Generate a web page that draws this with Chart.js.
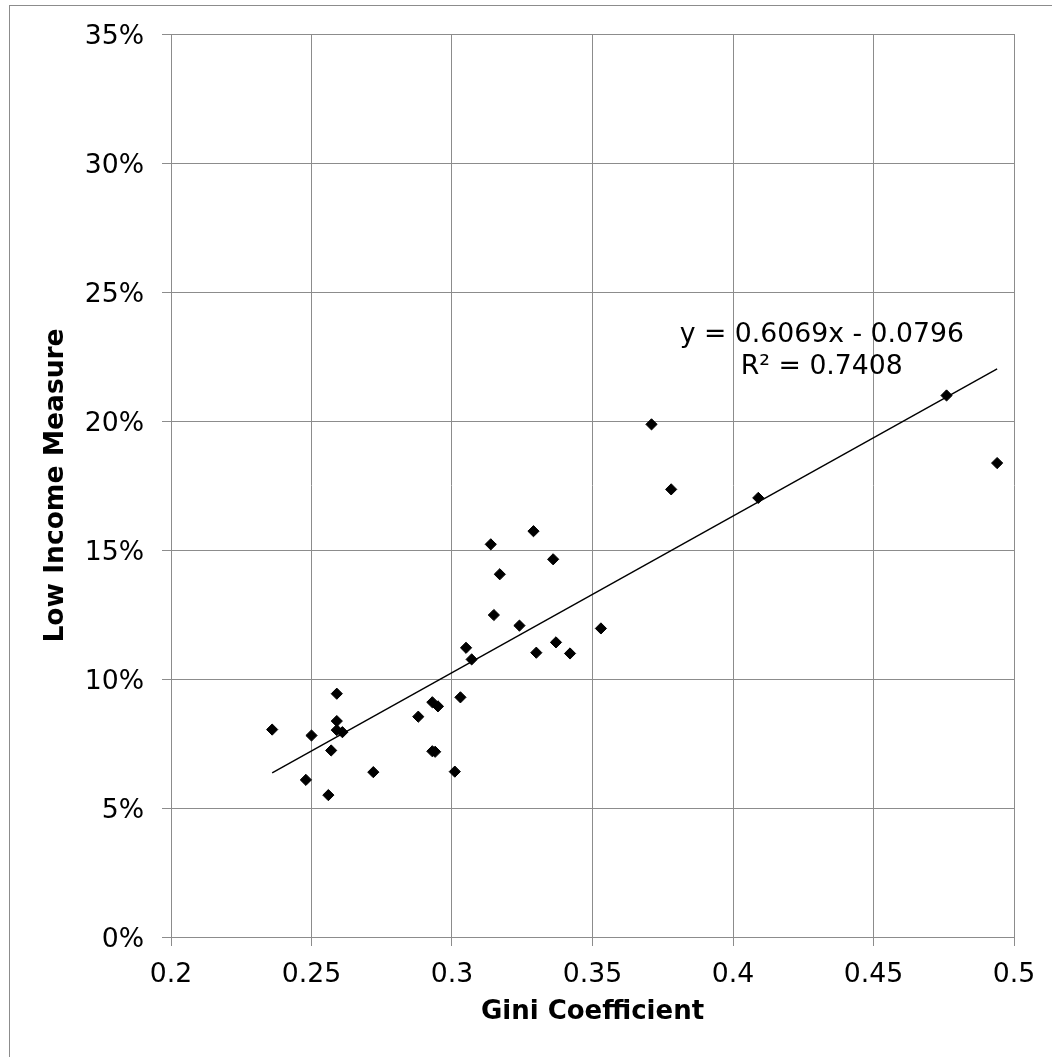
<!DOCTYPE html>
<html>
<head>
<meta charset="utf-8">
<script src="https://cdn.jsdelivr.net/npm/chart.js@4.4.1/dist/chart.umd.min.js"></script>
<style>
  html, body { margin: 0; padding: 0; background: #ffffff; }
  #wrap { position: relative; width: 1052px; height: 1057px; }
</style>
</head>
<body>
<div id="wrap"><canvas id="c" width="1052" height="1057"></canvas></div>
<script>
// ---- data ----
const giniValues = [0.236, 0.250, 0.248, 0.256, 0.257, 0.259, 0.259, 0.259, 0.261, 0.272,
                    0.288, 0.293, 0.295, 0.293, 0.294, 0.301, 0.303, 0.305, 0.307, 0.3149,
                    0.317, 0.3138, 0.329, 0.336, 0.324, 0.330, 0.337, 0.342, 0.353, 0.371,
                    0.378, 0.409, 0.476, 0.494];
const limValues  = [0.0804, 0.0781, 0.0609, 0.0550, 0.0723, 0.0943, 0.0837, 0.0802, 0.0794, 0.0639,
                    0.0854, 0.0910, 0.0894, 0.0720, 0.0718, 0.0641, 0.0929, 0.1121, 0.1076, 0.1248,
                    0.1406, 0.1522, 0.1573, 0.1464, 0.1207, 0.1102, 0.1142, 0.1099, 0.1196, 0.1987,
                    0.1735, 0.1702, 0.2099, 0.1837];
const trendSlope = 0.6069;
const trendIntercept = -0.0796;
const trendLabels = ["y = 0.6069x - 0.0796", "R\u00B2 = 0.7408"];
const xTickValues = [0.2, 0.25, 0.3, 0.35, 0.4, 0.45, 0.5];
const yTickValues = [0, 0.05, 0.10, 0.15, 0.20, 0.25, 0.30, 0.35];
const xTitle = "Gini Coefficient";
const yTitle = "Low Income Measure";

// ---- presentation constants ----
const FONT = "'DejaVu Sans', Verdana, sans-serif";
const GRID = '#8c8c8c';
const labelAnchor = { x: 0.4316, y1: 0.2335, y2: 0.2211 };

const points = giniValues.map((g, i) => ({ x: g, y: limValues[i] }));
const xMin = Math.min(...giniValues), xMax = Math.max(...giniValues);
const trendPoints = [xMin, xMax].map(x => ({ x: x, y: trendSlope * x + trendIntercept }));

const frame = {
  id: 'frame',
  beforeDraw(chart) {
    const ctx = chart.ctx;
    ctx.save();
    ctx.fillStyle = '#ffffff';
    ctx.fillRect(0, 0, chart.width, chart.height);
    ctx.strokeStyle = GRID;
    ctx.lineWidth = 1;
    ctx.strokeRect(9.5, 5.5, chart.width + 20, chart.height + 20);
    ctx.restore();
  },
  afterDatasetsDraw(chart) {
    const ctx = chart.ctx;
    const xs = chart.scales.x, ys = chart.scales.y;
    const cx = xs.getPixelForValue(labelAnchor.x);
    ctx.save();
    ctx.fillStyle = '#000000';
    ctx.font = "26.7px " + FONT;
    ctx.textAlign = 'center';
    ctx.textBaseline = 'middle';
    ctx.fillText(trendLabels[0], cx, ys.getPixelForValue(labelAnchor.y1));
    ctx.fillText(trendLabels[1], cx, ys.getPixelForValue(labelAnchor.y2));
    ctx.restore();
  }
};

new Chart(document.getElementById('c'), {
  type: 'scatter',
  data: {
    datasets: [
      {
        label: 'Countries',
        data: points,
        pointStyle: 'rectRot',
        pointRadius: 5.6,
        pointHoverRadius: 5.6,
        pointBorderWidth: 1,
        backgroundColor: '#000000',
        borderColor: '#000000',
        showLine: false
      },
      {
        label: 'Linear trend',
        data: trendPoints,
        showLine: true,
        pointRadius: 0,
        borderColor: '#000000',
        borderWidth: 1.4,
        fill: false
      }
    ]
  },
  options: {
    responsive: false,
    animation: false,
    devicePixelRatio: 1,
    layout: { padding: { left: 0, right: 38, top: 34, bottom: 0 } },
    plugins: {
      legend: { display: false },
      tooltip: { enabled: false }
    },
    scales: {
      x: {
        type: 'linear',
        min: 0.2,
        max: 0.5,
        afterBuildTicks(scale) { scale.ticks = xTickValues.map(v => ({ value: v })); },
        afterFit(scale) { scale.height = 120; },
        ticks: {
          color: '#000000',
          font: { family: FONT, size: 26.7 },
          padding: 13,
          maxRotation: 0,
          callback: v => String(+Number(v).toFixed(2))
        },
        grid: { color: GRID, lineWidth: 1, tickLength: 9, drawTicks: true },
        border: { color: GRID, width: 1 },
        title: {
          display: true,
          text: xTitle,
          color: '#000000',
          font: { family: FONT, size: 26, weight: 'bold' },
          padding: { top: 0, bottom: 29 }
        }
      },
      y: {
        type: 'linear',
        min: 0,
        max: 0.35,
        afterBuildTicks(scale) { scale.ticks = yTickValues.map(v => ({ value: v })); },
        afterFit(scale) { scale.width = 171; },
        ticks: {
          color: '#000000',
          font: { family: FONT, size: 26.7 },
          padding: 18,
          labelOffset: 3,
          callback: v => Math.round(v * 100) + '%'
        },
        grid: { color: GRID, lineWidth: 1, tickLength: 9, drawTicks: true },
        border: { color: GRID, width: 1 },
        title: {
          display: true,
          text: yTitle,
          color: '#000000',
          font: { family: FONT, size: 26.5, weight: 'bold' },
          padding: { top: 40, bottom: 0 }
        }
      }
    }
  },
  plugins: [frame]
});
</script>
</body>
</html>
